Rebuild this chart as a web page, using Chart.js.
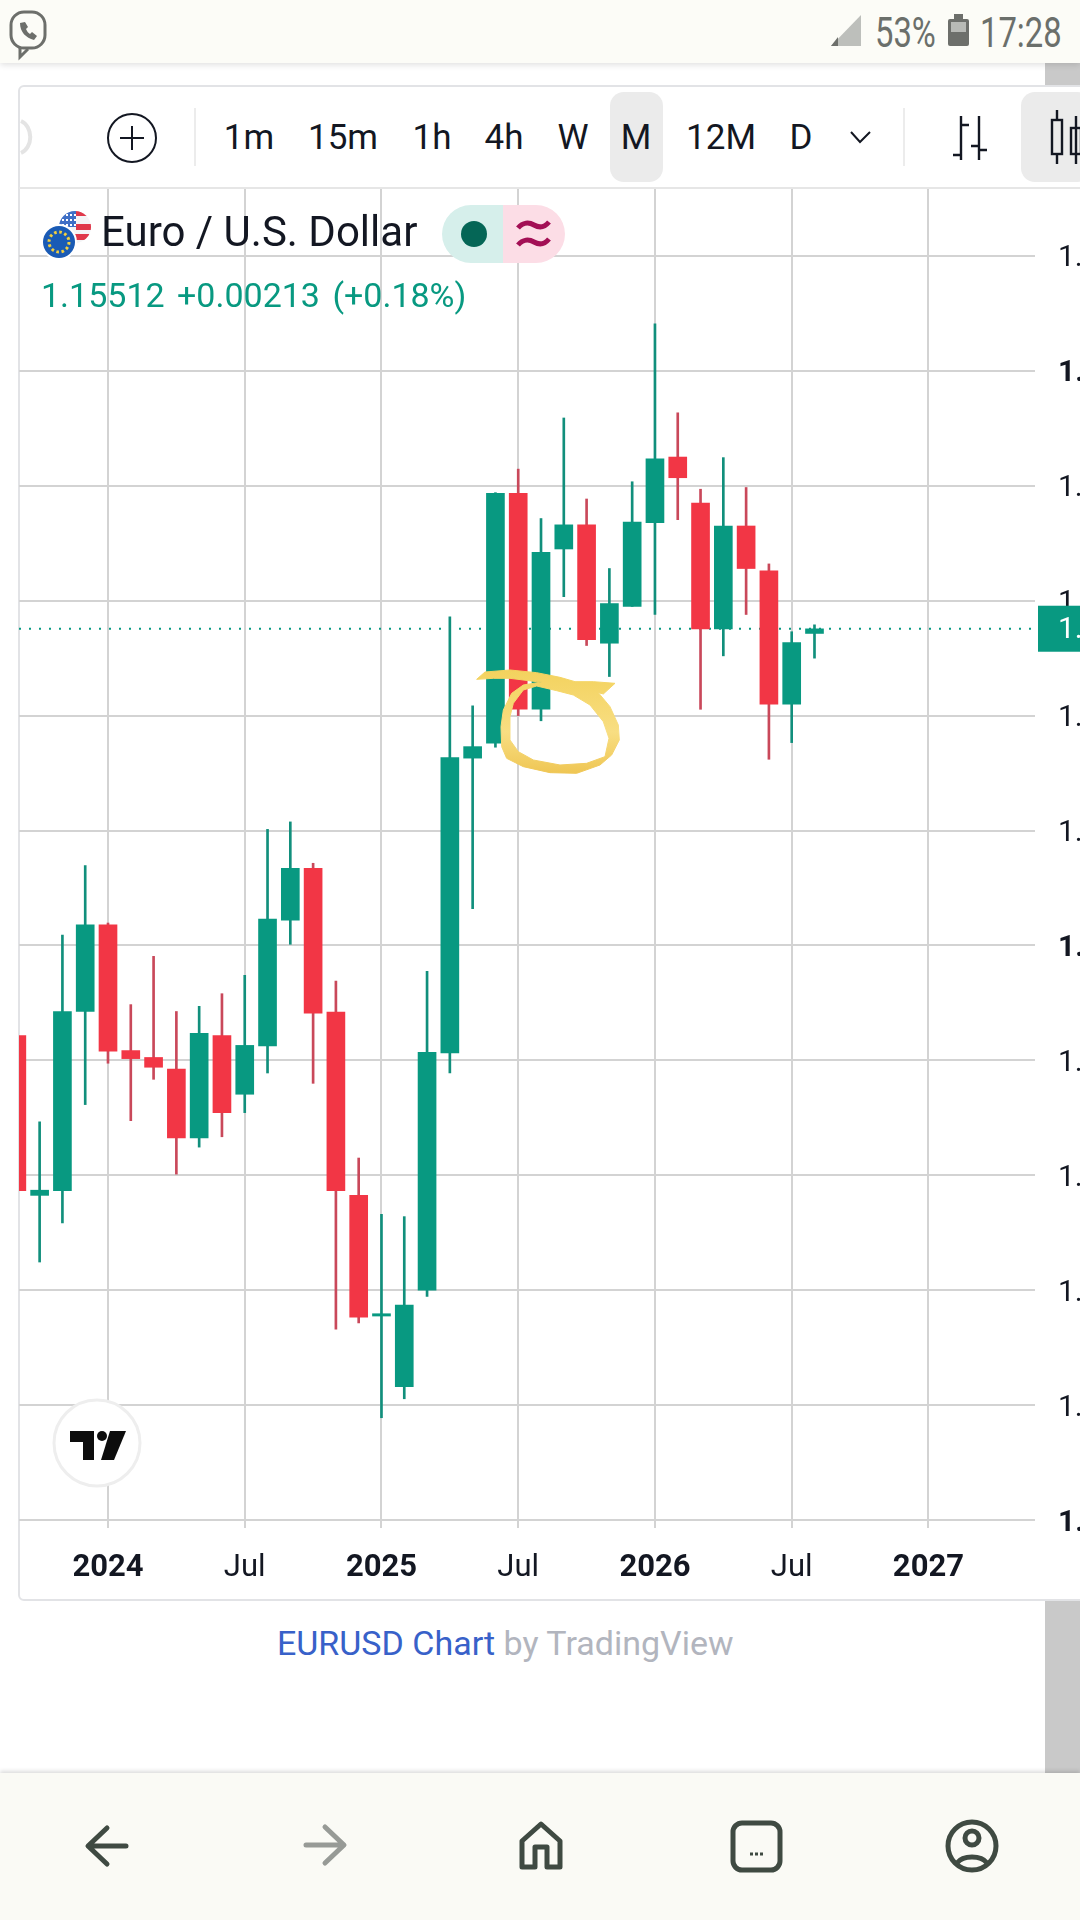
<!DOCTYPE html>
<html>
<head>
<meta charset="utf-8">
<title>EURUSD Chart</title>
<script src="https://cdn.jsdelivr.net/npm/chart.js@4/dist/chart.umd.js"></script>
<style>
  html, body { margin: 0; padding: 0; width: 1080px; height: 1920px; overflow: hidden; background: #fff; font-family: Roboto, sans-serif; color: #131722; }
  .abs { position: absolute; white-space: nowrap; }
  #statusbar { position: absolute; left: 0; top: 0; width: 1080px; height: 63px; background: #fcfcf7; box-shadow: 0 2px 6px rgba(0,0,0,.12); z-index: 6; }
  #navbar { position: absolute; left: 0; top: 1773px; width: 1080px; height: 147px; background: #fafaf5; box-shadow: 0 -2px 4px rgba(0,0,0,.14); z-index: 6; }
  .strip { position: absolute; left: 1045px; width: 35px; background: #c9c9c9; }
  #widget { position: absolute; left: 18px; top: 85px; width: 1100px; height: 1516px; border: 2px solid #e2e3e6; border-radius: 6px; background: #fff; box-sizing: border-box; }
  #wrap { position: absolute; left: 19px; top: 189px; width: 1116px; height: 1412px; }
  #toolbarline { position: absolute; left: 19px; top: 187px; width: 1061px; height: 2px; background: #e6e6e6; }
  .tf { position: absolute; top: 116px; font-size: 35px; line-height: 44px; transform: translateX(-50%); color: #131722; }
  .sel { position: absolute; top: 92px; height: 90px; background: #ebebeb; border-radius: 14px; }
  .sep { position: absolute; top: 108px; width: 2px; height: 58px; background: #ececec; }
  #title { left: 101px; top: 208px; font-size: 42px; line-height: 48px; color: #131722; }
  #values { left: 41px; top: 275px; font-size: 34px; line-height: 40px; color: #089981; word-spacing: 4px; }
  #credit { left: 277px; top: 1623px; font-size: 34px; line-height: 40px; color: #b2b5be; }
  #credit span { color: #3861c9; }
  .st { position: absolute; top: 11px; font-size: 42px; line-height: 44px; color: #6b6f6b; transform-origin: left center; transform: scaleX(.78); }
  svg.ov { position: absolute; left: 0; top: 0; width: 1080px; height: 1920px; pointer-events: none; }
</style>
</head>
<body>
<div class="strip" style="top:60px;height:30px"></div>
<div class="strip" style="top:1598px;height:176px"></div>
<div id="widget"></div>
<div id="wrap"><canvas id="chart" width="1116" height="1412"></canvas></div>
<div id="toolbarline"></div>

<!-- toolbar -->
<div class="sel" style="left:610px;width:53px"></div>
<div class="sel" style="left:1021px;width:70px"></div>
<div class="sep" style="left:194px"></div>
<div class="sep" style="left:903px"></div>
<div class="tf" style="left:249px">1m</div>
<div class="tf" style="left:343px">15m</div>
<div class="tf" style="left:432px">1h</div>
<div class="tf" style="left:504px">4h</div>
<div class="tf" style="left:573px">W</div>
<div class="tf" style="left:636px">M</div>
<div class="tf" style="left:721px">12M</div>
<div class="tf" style="left:801px">D</div>

<div class="abs" id="title">Euro / U.S. Dollar</div>
<div class="abs" id="values">1.15512 +0.00213 (+0.18%)</div>
<div class="abs" id="credit"><span>EURUSD Chart</span> by TradingView</div>

<div id="statusbar"></div>
<div id="navbar"></div>
<div class="st" style="left:875px;z-index:7">53%</div>
<div class="st" style="left:980px;z-index:7">17:28</div>

<svg class="ov" style="z-index:8" viewBox="0 0 1080 1920" fill="none">
  <defs>
    <clipPath id="usClip"><circle cx="75" cy="227" r="16"/></clipPath>
    <linearGradient id="marker" x1="0" y1="0" x2="0" y2="1">
      <stop offset="0" stop-color="#f3d25e"/>
      <stop offset=".6" stop-color="#f8de82"/>
      <stop offset="1" stop-color="#efc654"/>
    </linearGradient>
  </defs>

  <!-- toolbar icons -->
  <path d="M21 121 a14 17 0 0 1 0 32" stroke="#e4e4e4" stroke-width="4"/>
  <circle cx="132" cy="138" r="24" stroke="#131722" stroke-width="2"/>
  <path d="M132 126v24M120 138h24" stroke="#131722" stroke-width="2"/>
  <path d="M851 132l9 10 10-10" stroke="#131722" stroke-width="2"/>
  <path d="M961 116v44M979 116v44M953 155h8M961 125h8M979 146h-8M979 150h8" stroke="#131722" stroke-width="2.4"/>
  <rect x="1052" y="120" width="10" height="34" stroke="#131722" stroke-width="2.4"/>
  <path d="M1057 110v10M1057 154v10M1076 116v48" stroke="#131722" stroke-width="2.4"/>
  <rect x="1071" y="128" width="10" height="26" stroke="#131722" stroke-width="2.4"/>

  <!-- legend flags and pill -->
  <g clip-path="url(#usClip)">
    <rect x="59" y="211" width="32" height="32" fill="#f4f4f6"/>
    <path d="M76 213h16M76 227h16M59 237h32" stroke="#e0384a" stroke-width="6"/>
    <rect x="59" y="211" width="17" height="16" fill="#3f6fc6"/>
    <path d="M62 215h14M62 220h14M62 225h14" stroke="#fff" stroke-width="2" stroke-dasharray="2 2"/>
  </g>
  <circle cx="59" cy="242" r="18" fill="#fff"/>
  <circle cx="59" cy="242" r="16" fill="#1a5bb5"/>
  <circle cx="59" cy="242" r="10" stroke="#f4d03f" stroke-width="3" stroke-dasharray="2.6 2.63"/>
  <path d="M503 205h-32a29 29 0 0 0 0 58h32z" fill="#d6efeb"/>
  <path d="M503 205h33a29 29 0 0 1 0 58h-33z" fill="#fcdde6"/>
  <circle cx="474" cy="234" r="13" fill="#056656"/>
  <path d="M518 228c5-6 11-6 16-3s10 3 15-3M518 245c5-6 11-6 16-3s10 3 15-3" stroke="#a30f55" stroke-width="5"/>

  <!-- TradingView badge -->
  <circle cx="97" cy="1443" r="43" fill="#fff" stroke="#eeeeee" stroke-width="3"/>
  <path d="M70 1431h24v29h-11v-18h-13z" fill="#0d0d0d"/>
  <circle cx="102" cy="1436" r="5" fill="#0d0d0d"/>
  <path d="M110 1431h16l-12 29h-13z" fill="#0d0d0d"/>

  <!-- hand drawn circle, traced from a 3x crop -->
  <path transform="translate(460 650) scale(.3333)" fill="url(#marker)" fill-rule="evenodd" stroke="url(#marker)" stroke-width="3" stroke-linejoin="round"
    d="M50 88L75 66L150 60L230 68L300 82L345 95L400 95L465 100L430 132L415 128L450 170L475 225L478 270L455 315L420 345L350 370L270 368L190 350L140 325L125 290L123 230L130 180L155 130L190 105L250 95L230 95L150 85L100 85Z
       M150 200L160 160L190 120L230 108L290 122L340 135L390 165L430 215L447 265L435 320L380 340L300 345L220 330L175 305L150 270Z"/>

  <!-- status bar icons -->
  <rect x="11" y="12" width="34" height="36" rx="13" stroke="#6d6f6b" stroke-width="3"/>
  <path d="M20 48v9l8-8" stroke="#6d6f6b" stroke-width="3"/>
  <path d="M20 23c0 9 6 15 14 17l3-4-5-4-2 2c-2-1-3-3-4-5l2-2-3-5z" fill="#6d6f6b"/>
  <path d="M861 15v31h-30z" fill="#bdbfbb"/>
  <path d="M831 46l7-9v9z" fill="#6d6f6b"/>
  <rect x="948" y="19" width="21" height="27" rx="2" fill="#6d6f6b"/>
  <rect x="954" y="14" width="9" height="5" fill="#6d6f6b"/>
  <rect x="951" y="22" width="15" height="10" fill="#b8bab6"/>

  <!-- nav icons -->
  <g stroke="#3f4a42" stroke-width="5" stroke-linecap="round" stroke-linejoin="round">
    <path d="M126 1846H90M107 1828l-19 18 19 18"/>
    <path d="M306 1845h36M325 1827l19 18-19 18" stroke="#979a96"/>
    <path d="M522 1867v-26l19-17 19 17v26h-13v-20h-12v20z"/>
    <rect x="733" y="1823" width="47" height="47" rx="9" stroke-width="5"/>
    <circle cx="972" cy="1846" r="24"/>
    <circle cx="972" cy="1838" r="7"/>
    <path d="M957 1863c6-8 24-8 30 0"/>
  </g>
  <path d="M750 1854h3M755 1854h3M760 1854h3" stroke="#3f4a42" stroke-width="3"/>
</svg>

<script>
// months as YYYY-MM, one candle each
const months = ['2023-09','2023-10','2023-11','2023-12','2024-01','2024-02','2024-03','2024-04','2024-05','2024-06','2024-07','2024-08',
  '2024-09','2024-10','2024-11','2024-12','2025-01','2025-02','2025-03','2025-04','2025-05','2025-06','2025-07','2025-08',
  '2025-09','2025-10','2025-11','2025-12','2026-01','2026-02','2026-03','2026-04','2026-05','2026-06','2026-07','2026-08'];
const opens  = [1.0843,1.0565,1.0573,1.0885,1.1036,1.0817,1.0805,1.0785,1.0665,1.0843,1.0741,1.0825,
  1.1044,1.1134,1.0884,1.0565,1.0355,1.0232,1.0400,1.0813,1.1326,1.1352,1.1787,1.1411,
  1.1690,1.1732,1.1526,1.1590,1.1736,1.1850,1.1770,1.1551,1.1730,1.1652,1.1420,1.1543];
const closes = [1.0573,1.0574,1.0885,1.1036,1.0816,1.0803,1.0788,1.0665,1.0847,1.0709,1.0826,1.1046,
  1.1134,1.0882,1.0573,1.0353,1.0359,1.0374,1.0814,1.1327,1.1346,1.1787,1.1411,1.1684,
  1.1732,1.1532,1.1595,1.1737,1.1847,1.1814,1.1551,1.1730,1.1656,1.1420,1.1527,1.1551];
const highs  = [1.0882,1.0693,1.1018,1.1139,1.1039,1.0897,1.0981,1.0885,1.0894,1.0916,1.0948,1.1202,
  1.1215,1.1143,1.0938,1.0630,1.0532,1.0528,1.0955,1.1572,1.1417,1.1788,1.1829,1.1743,
  1.1918,1.1777,1.1656,1.1807,1.2082,1.1927,1.1794,1.1849,1.1797,1.1664,1.1546,1.1558];
const lows   = [1.0488,1.0449,1.0517,1.0723,1.0795,1.0695,1.0767,1.0602,1.0649,1.0667,1.0709,1.0778,
  1.1002,1.0760,1.0332,1.0343,1.0178,1.0211,1.0389,1.0778,1.1064,1.1345,1.1400,1.1391,
  1.1607,1.1522,1.1468,1.1590,1.1576,1.1741,1.1411,1.1504,1.1576,1.1324,1.1353,1.1500];

const tickDates  = ['2024-01','2024-07','2025-01','2025-07','2026-01','2026-07','2027-01'];
const tickLabels = ['2024','Jul','2025','Jul','2026','Jul','2027'];
const priceTicks = [1.00,1.02,1.04,1.06,1.08,1.10,1.12,1.14,1.16,1.18,1.20,1.22];
const lastPrice = 1.15512;

const UP = '#089981', DOWN = '#f23645';

function monthNum(s) { // absolute month number, so the x axis is plain linear
  const p = s.split('-');
  return Number(p[0]) * 12 + Number(p[1]) - 1;
}
const xs = months.map(monthNum);
const tickXs = tickDates.map(monthNum);
const isUp = i => closes[i] >= opens[i];

// x range: plot is 1016px wide, 22.79px per month, Jan 2024 sits 89px in
const xMin = monthNum('2024-01') - 89 / 22.79;
const xMax = xMin + 1016 / 22.79;
// y range: 5750px per 1.00, 1.22 sits 67px below the top, 1.00 sits 8px above the bottom
const yMax = 1.22 + 67 / 5750;
const yMin = 1.00 - 8 / 5750;

// green tag with the last price, on top of the axis labels
const priceTag = {
  id: 'priceTag',
  afterDraw(chart) {
    const c = chart.ctx;
    const y = chart.scales.y.getPixelForValue(lastPrice);
    const left = chart.chartArea.right + 3;
    c.save();
    c.fillStyle = UP;
    c.fillRect(left, y - 23, 90, 46);
    c.fillStyle = '#fff';
    c.font = '30px Roboto';
    c.textBaseline = 'middle';
    c.fillText(lastPrice.toFixed(5), chart.chartArea.right + 23, y + 2);
    c.restore();
  }
};

const xTickWeight = ctx => ctx.tick && tickLabels[tickXs.indexOf(ctx.tick.value)] === 'Jul' ? '400' : '700';
const yTickWeight = ctx => ctx.tick && Math.round(ctx.tick.value * 100) % 10 !== 0 ? '400' : '700';

new Chart(document.getElementById('chart'), {
  type: 'bar',
  plugins: [priceTag],
  data: {
    datasets: [
      {
        label: 'Body',
        data: xs.map((x, i) => ({ x, y: [opens[i], closes[i]] })),
        backgroundColor: ctx => isUp(ctx.dataIndex) ? UP : DOWN,
        barThickness: 18,
        maxBarThickness: 18,
        minBarLength: 2,
        grouped: false,
        order: 1
      },
      {
        label: 'Wick',
        data: xs.map((x, i) => ({ x, y: [lows[i], highs[i]] })),
        backgroundColor: ctx => isUp(ctx.dataIndex) ? '#118f7c' : '#c9485a',
        barThickness: 2,
        maxBarThickness: 2,
        grouped: false,
        order: 2
      },
      {
        type: 'line',
        label: 'Last',
        data: [{ x: xMin, y: lastPrice }, { x: xMax, y: lastPrice }],
        borderColor: UP,
        borderWidth: 2,
        borderDash: [2, 8],
        pointRadius: 0,
        order: 3
      }
    ]
  },
  options: {
    responsive: false,
    animation: false,
    layout: { padding: 0 },
    plugins: { legend: { display: false }, tooltip: { enabled: false }, title: { display: false } },
    scales: {
      x: {
        type: 'linear',
        offset: false,
        min: xMin,
        max: xMax,
        afterBuildTicks: scale => { scale.ticks = tickXs.map(value => ({ value })); },
        afterFit: scale => { scale.height = 73; scale.paddingLeft = 0; scale.paddingRight = 0; },
        border: { display: false },
        grid: { offset: false, color: '#d3d3d3', lineWidth: 2, drawTicks: false },
        ticks: {
          autoSkip: false,
          maxRotation: 0,
          padding: 22,
          color: '#131722',
          font: ctx => ({ family: 'Roboto', size: 31, weight: xTickWeight(ctx) }),
          callback: v => tickLabels[tickXs.indexOf(v)]
        }
      },
      y: {
        position: 'right',
        min: yMin,
        max: yMax,
        afterBuildTicks: scale => { scale.ticks = priceTicks.map(value => ({ value })); },
        afterFit: scale => { scale.width = 100; scale.paddingTop = 0; scale.paddingBottom = 0; },
        border: { display: false },
        grid: { color: '#d3d3d3', lineWidth: 2, drawTicks: false },
        ticks: {
          autoSkip: false,
          padding: 23,
          labelOffset: 3,
          color: '#131722',
          font: ctx => ({ family: 'Roboto', size: 30, weight: yTickWeight(ctx) }),
          callback: v => v.toFixed(2)
        }
      }
    }
  }
});
</script>
</body>
</html>
